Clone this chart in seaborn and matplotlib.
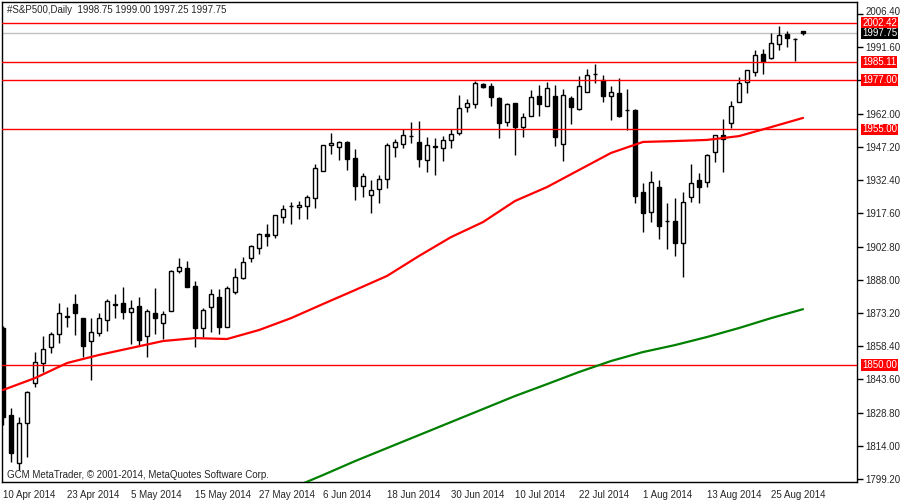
import matplotlib
matplotlib.use('Agg')
import matplotlib.pyplot as plt
import matplotlib.transforms as mtransforms
import seaborn as sns
import numpy as np
import pandas as pd

# daily OHLC bars, 10 Apr 2014 .. 29 Aug 2014
opens = [1866.5, 1827.7, 1806.3, 1824.2, 1842.0, 1850.9, 1858.0, 1863.8, 1871.4, 1877.2,
         1870.9, 1860.7, 1864.3, 1870.0, 1877.4, 1877.6, 1873.6, 1876.3, 1862.9, 1873.2,
         1868.7, 1874.1, 1891.9, 1893.2, 1885.2, 1866.5, 1875.8, 1880.3, 1866.9, 1882.5,
         1888.8, 1897.7, 1902.1, 1908.4, 1907.9, 1915.9, 1920.8, 1920.2, 1920.8, 1924.4,
         1936.4, 1948.0, 1947.1, 1949.4, 1942.2, 1929.8, 1925.7, 1928.4, 1932.9, 1947.1,
         1948.5, 1952.1, 1949.4, 1941.3, 1947.6, 1946.7, 1950.3, 1953.4, 1964.9, 1966.3,
         1975.2, 1974.3, 1969.0, 1958.3, 1966.7, 1956.0, 1960.9, 1969.9, 1965.4, 1969.9,
         1948.5, 1969.0, 1964.1, 1971.6, 1979.7, 1977.0, 1969.9, 1971.2, 1963.6, 1963.6,
         1927.1, 1918.2, 1929.3, 1914.2, 1914.2, 1904.4, 1924.9, 1932.4, 1931.5, 1944.9,
         1952.5, 1957.8, 1967.2, 1976.1, 1980.6, 1988.6, 1986.8, 1993.0, 1997.5, 1995.3,
         1998.75]
highs = [1867.4, 1830.8, 1826.8, 1838.3, 1855.8, 1862.9, 1864.7, 1877.6, 1875.8, 1881.6,
         1871.0, 1870.9, 1873.2, 1879.4, 1881.6, 1884.7, 1879.0, 1880.3, 1875.0, 1884.3,
         1874.1, 1892.3, 1897.7, 1896.3, 1887.4, 1875.4, 1883.9, 1883.9, 1885.2, 1893.2,
         1898.1, 1903.5, 1908.8, 1912.8, 1917.0, 1921.3, 1922.6, 1923.1, 1925.7, 1939.6,
         1948.2, 1953.4, 1949.6, 1949.6, 1946.2, 1935.5, 1932.4, 1934.6, 1948.9, 1950.7,
         1955.2, 1958.3, 1958.7, 1951.6, 1951.1, 1952.0, 1955.2, 1970.3, 1968.5, 1976.5,
         1975.7, 1975.7, 1969.4, 1966.7, 1966.8, 1962.3, 1972.5, 1974.8, 1976.1, 1974.8,
         1973.0, 1969.9, 1978.8, 1981.9, 1984.1, 1979.2, 1974.3, 1977.9, 1973.0, 1964.1,
         1931.1, 1936.4, 1932.4, 1922.2, 1924.4, 1927.1, 1939.6, 1935.5, 1944.0, 1952.6,
         1959.6, 1967.6, 1978.3, 1981.5, 1990.4, 1990.8, 1997.9, 2001.1, 1998.8, 1995.7,
         1999.00]
lows = [1823.3, 1806.8, 1803.2, 1809.0, 1840.2, 1846.9, 1855.3, 1859.8, 1866.9, 1863.4,
        1853.6, 1843.3, 1862.9, 1865.1, 1870.9, 1870.5, 1859.4, 1858.5, 1853.6, 1863.8,
        1861.6, 1874.0, 1891.0, 1884.7, 1858.0, 1862.5, 1864.7, 1863.8, 1866.8, 1881.6,
        1888.3, 1895.9, 1899.4, 1903.0, 1906.6, 1913.3, 1912.8, 1915.0, 1915.0, 1920.0,
        1936.3, 1944.0, 1941.3, 1936.9, 1923.5, 1924.9, 1917.7, 1922.2, 1928.9, 1942.7,
        1946.7, 1948.9, 1938.2, 1936.0, 1934.7, 1940.9, 1946.7, 1952.5, 1962.7, 1964.5,
        1973.4, 1965.4, 1951.1, 1956.5, 1943.6, 1951.6, 1960.8, 1960.9, 1965.3, 1947.6,
        1940.9, 1957.4, 1963.6, 1971.5, 1975.7, 1967.2, 1959.2, 1960.5, 1954.7, 1922.2,
        1909.2, 1913.7, 1906.1, 1901.7, 1898.6, 1889.2, 1922.6, 1922.2, 1929.3, 1940.5,
        1936.0, 1955.6, 1967.1, 1971.2, 1978.8, 1979.7, 1986.3, 1990.4, 1991.7, 1985.5,
        1997.25]
closes = [1826.8, 1810.8, 1824.2, 1838.0, 1851.3, 1857.1, 1863.8, 1873.2, 1871.9, 1873.2,
          1858.5, 1864.7, 1870.9, 1878.5, 1876.9, 1873.6, 1875.4, 1861.1, 1874.1, 1870.9,
          1872.7, 1891.9, 1893.6, 1884.8, 1866.5, 1874.5, 1881.6, 1866.9, 1884.3, 1889.2,
          1895.9, 1903.0, 1908.4, 1907.5, 1916.8, 1919.5, 1920.9, 1921.3, 1924.9, 1937.8,
          1948.0, 1948.9, 1949.4, 1941.8, 1929.8, 1934.2, 1928.0, 1932.9, 1948.0, 1949.4,
          1952.5, 1952.0, 1941.8, 1948.0, 1947.1, 1950.3, 1952.9, 1964.5, 1966.7, 1975.7,
          1973.9, 1969.4, 1957.8, 1966.3, 1956.0, 1960.5, 1969.4, 1966.3, 1973.4, 1951.6,
          1970.3, 1964.9, 1974.3, 1979.2, 1979.6, 1969.9, 1971.6, 1960.9, 1963.7, 1925.3,
          1917.7, 1931.5, 1911.9, 1914.1, 1904.4, 1922.6, 1931.1, 1929.3, 1943.6, 1952.5,
          1950.7, 1965.4, 1975.7, 1981.4, 1988.1, 1985.5, 1993.5, 1997.0, 1995.7, 1995.2,
          1997.75]

# moving averages (red = fast, green = slow), sampled every 4 bars
red_ma_bar = [0, 4, 8, 12, 16, 20, 24, 28, 32, 36, 40, 44, 48, 52, 56, 60, 64, 68, 72,
              76, 80, 84, 88, 92, 96, 100]
red_ma = [1838.9, 1844.2, 1850.9, 1854.5, 1857.6, 1860.7, 1862.0, 1861.6, 1865.6, 1870.9,
          1877.2, 1883.4, 1889.7, 1898.6, 1907.0, 1913.7, 1923.1, 1929.3, 1936.9, 1944.5,
          1949.4, 1949.8, 1950.3, 1952.0, 1956.0, 1960.1]
green_ma_bar = [37, 40, 44, 48, 52, 56, 60, 64, 68, 72, 76, 80, 84, 88, 92, 96, 100]
green_ma = [1796.5, 1801.0, 1807.2, 1813.0, 1818.8, 1824.6, 1830.4, 1836.2, 1841.5, 1846.9,
            1851.8, 1855.8, 1858.9, 1862.5, 1866.5, 1870.9, 1874.9]

# horizontal levels
red_levels = [2002.42, 1985.11, 1977.00, 1955.00, 1850.00]
bid = 1997.75

price_ticks = [2006.40, 1991.60, 1976.80, 1962.00, 1947.20, 1932.40, 1917.60, 1902.80,
               1888.00, 1873.20, 1858.40, 1843.60, 1828.80, 1814.00, 1799.20]
date_labels = ['10 Apr 2014', '23 Apr 2014', '5 May 2014', '15 May 2014', '27 May 2014',
               '6 Jun 2014', '18 Jun 2014', '30 Jun 2014', '10 Jul 2014', '22 Jul 2014',
               '1 Aug 2014', '13 Aug 2014', '25 Aug 2014']
date_bars = [0, 8, 16, 24, 32, 40, 48, 56, 64, 72, 80, 88, 96]

df = pd.DataFrame({'open': opens, 'high': highs, 'low': lows, 'close': closes})
df['bar'] = np.arange(len(df))

sns.set_style('white')
plt.rcParams['font.family'] = ['Liberation Sans', 'DejaVu Sans']

fig = plt.figure(figsize=(9, 5), dpi=100)
ax = fig.add_axes([2 / 900, 18 / 500, 855 / 900, 480 / 500])

# candles
up = df['close'] >= df['open']
body_lo = np.minimum(df['open'], df['close'])
body_h = np.maximum((df['close'] - df['open']).abs(), 0.05)
ax.vlines(df['bar'], df['low'], df['high'], color='black', lw=1, zorder=2)
ax.bar(df['bar'], body_h, bottom=body_lo, width=0.55,
       color=np.where(up, 'white', 'black'), edgecolor='black', linewidth=1, zorder=3)

# level lines
ax.axhline(bid, color='#c0c0c0', lw=1, zorder=1)
for lv in red_levels:
    ax.axhline(lv, color='#ff0000', lw=1, zorder=4)

sns.lineplot(x=red_ma_bar, y=red_ma, color='#ff0000', lw=1.6, ax=ax, zorder=5)
sns.lineplot(x=green_ma_bar, y=green_ma, color='#008000', lw=1.6, ax=ax, zorder=5)

ax.set_xlim(-0.125, -0.125 + 855 / 8)
ax.set_ylim(1797.9, 2011.75)

# tick labels hidden behind a level box in the reference are left blank
covered = [t for t in price_ticks if min(abs(t - lv) for lv in red_levels + [bid]) < 1.0]
ax.yaxis.tick_right()
ax.set_yticks(price_ticks)
ax.set_yticklabels(['' if v in covered else f'{v:.2f}' for v in price_ticks], fontsize=7)
ax.set_xticks(date_bars)
ax.set_xticklabels(date_labels, fontsize=7, ha='left')
ax.tick_params(axis='both', direction='out', length=4, width=1, color='black', pad=2)
ax.tick_params(axis='x', pad=1.5)
ax.set_xlabel('')
ax.set_ylabel('')
for s in ax.spines.values():
    s.set_color('black')
    s.set_linewidth(1)

# top tick label sits just above the 2002.42 box: lift it a little
top_lab = ax.get_yticklabels()[0]
top_lab.set_transform(top_lab.get_transform() +
                      mtransforms.ScaledTranslation(0, 2.5 / 72, fig.dpi_scale_trans))
top_lab.set_va('center_baseline')

# price boxes on the right axis
trans = mtransforms.blended_transform_factory(ax.transAxes, ax.transData)
for lv in red_levels:
    ax.text(1.006, lv, f'{lv:.2f}', transform=trans, fontsize=7, color='white',
            ha='left', va='center', clip_on=False, zorder=10,
            bbox=dict(facecolor='#ff0000', edgecolor='none', pad=0.6))
ax.text(1.006, bid, f'{bid:.2f}', transform=trans, fontsize=7, color='white',
        ha='left', va='center', clip_on=False, zorder=10,
        bbox=dict(facecolor='black', edgecolor='none', pad=0.6))

ax.text(0.006, 0.983, '#S&P500,Daily  1998.75 1999.00 1997.25 1997.75',
        transform=ax.transAxes, fontsize=7, ha='left', va='center')
ax.text(0.006, 0.015, 'GCM MetaTrader, \u00a9 2001-2014, MetaQuotes Software Corp.',
        transform=ax.transAxes, fontsize=7, ha='left', va='center')

fig.savefig('out.png', dpi=100)
